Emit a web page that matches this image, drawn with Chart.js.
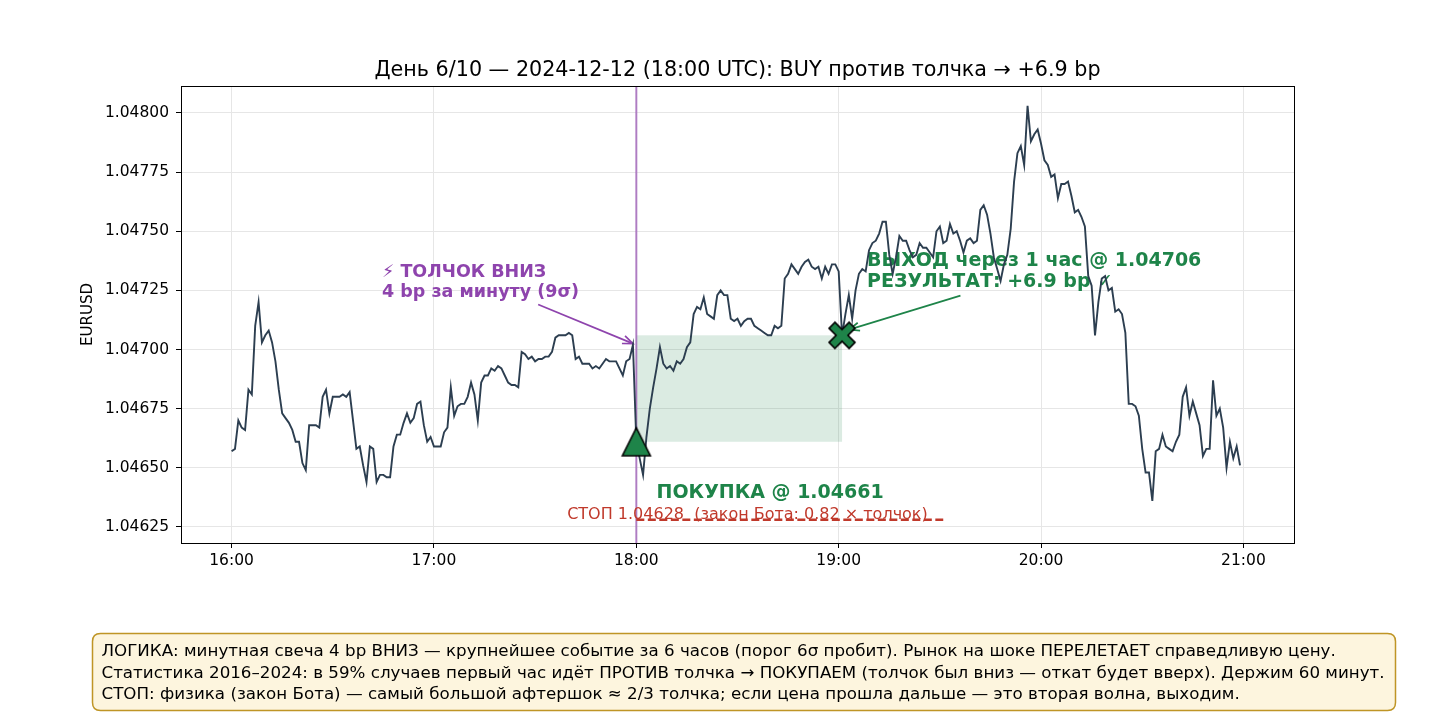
<!DOCTYPE html>
<html lang="ru">
<head>
<meta charset="UTF-8">
<title>EURUSD — день 6/10</title>
<script src="https://cdn.jsdelivr.net/npm/chart.js@4"></script>
<style>
  body { margin: 0; background: #fff; }
  #wrap { width: 1437px; height: 713px; }
</style>
</head>
<body>
<div id="wrap"><canvas id="shockChart" width="1437" height="713"></canvas></div>
<script>
// minute closes from 16:00 UTC (index = minutes after 16:00)
var closePrices = [
  1.04657, 1.04658, 1.04670, 1.04667, 1.04666, 1.04683, 1.04681, 1.04710, 1.04720, 1.04703,
  1.04706, 1.04708, 1.04703, 1.04695, 1.04683, 1.04673, 1.04671, 1.04669, 1.04666, 1.04661,
  1.04661, 1.04652, 1.04649, 1.04668, 1.04668, 1.04668, 1.04667, 1.04680, 1.04683, 1.04673,
  1.04680, 1.04680, 1.04680, 1.04681, 1.04680, 1.04682, 1.04670, 1.04658, 1.04659, 1.04651,
  1.04644, 1.04659, 1.04658, 1.04644, 1.04647, 1.04647, 1.04646, 1.04646, 1.04659, 1.04664,
  1.04664, 1.04669, 1.04673, 1.04669, 1.04671, 1.04677, 1.04678, 1.04668, 1.04661, 1.04663,
  1.04659, 1.04659, 1.04659, 1.04665, 1.04667, 1.04684, 1.04672, 1.04676, 1.04677, 1.04677,
  1.04680, 1.04686, 1.04681, 1.04670, 1.04686, 1.04689, 1.04689, 1.04692, 1.04691, 1.04693,
  1.04692, 1.04689, 1.04686, 1.04685, 1.04685, 1.04684, 1.04699, 1.04698, 1.04696, 1.04697,
  1.04695, 1.04696, 1.04696, 1.04697, 1.04697, 1.04699, 1.04705, 1.04706, 1.04706, 1.04706,
  1.04707, 1.04706, 1.04696, 1.04697, 1.04694, 1.04694, 1.04694, 1.04692, 1.04693, 1.04692,
  1.04694, 1.04696, 1.04695, 1.04695, 1.04695, 1.04692, 1.04689, 1.04695, 1.04696, 1.04702,
  1.04661, 1.04654, 1.04647, 1.04663, 1.04675, 1.04684, 1.04692, 1.04701, 1.04694, 1.04692,
  1.04693, 1.04691, 1.04695, 1.04694, 1.04696, 1.04701, 1.04703, 1.04715, 1.04718, 1.04717,
  1.04722, 1.04715, 1.04714, 1.04713, 1.04723, 1.04725, 1.04723, 1.04723, 1.04713, 1.04712,
  1.04713, 1.04710, 1.04712, 1.04713, 1.04713, 1.04710, 1.04709, 1.04708, 1.04707, 1.04706,
  1.04706, 1.04710, 1.04709, 1.04710, 1.04730, 1.04732, 1.04736, 1.04734, 1.04732, 1.04735,
  1.04737, 1.04738, 1.04735, 1.04734, 1.04735, 1.04730, 1.04735, 1.04732, 1.04736, 1.04736,
  1.04733, 1.04706, 1.04715, 1.04723, 1.04713, 1.04725, 1.04732, 1.04734, 1.04733, 1.04742,
  1.04745, 1.04746, 1.04749, 1.04754, 1.04754, 1.04740, 1.04732, 1.04739, 1.04748, 1.04746,
  1.04746, 1.04742, 1.04739, 1.04740, 1.04745, 1.04743, 1.04743, 1.04741, 1.04739, 1.04750,
  1.04752, 1.04745, 1.04746, 1.04753, 1.04749, 1.04750, 1.04746, 1.04741, 1.04746, 1.04747,
  1.04745, 1.04746, 1.04759, 1.04761, 1.04757, 1.04749, 1.04739, 1.04734, 1.04729, 1.04736,
  1.04740, 1.04751, 1.04771, 1.04783, 1.04786, 1.04778, 1.04803, 1.04788, 1.04791, 1.04793,
  1.04787, 1.04780, 1.04778, 1.04773, 1.04774, 1.04764, 1.04770, 1.04770, 1.04771, 1.04765,
  1.04758, 1.04759, 1.04756, 1.04752, 1.04731, 1.04727, 1.04706, 1.04720, 1.04730, 1.04731,
  1.04725, 1.04726, 1.04716, 1.04717, 1.04715, 1.04707, 1.04677, 1.04677, 1.04676, 1.04672,
  1.04658, 1.04648, 1.04648, 1.04636, 1.04657, 1.04658, 1.04664, 1.04659, 1.04658, 1.04657,
  1.04661, 1.04664, 1.04680, 1.04684, 1.04672, 1.04678, 1.04673, 1.04668, 1.04655, 1.04658,
  1.04658, 1.04687, 1.04672, 1.04675, 1.04667, 1.04650, 1.04661, 1.04654, 1.04659, 1.04651
];

var xTickMinutes = [0, 60, 120, 180, 240, 300];
var xTickLabels = ['16:00', '17:00', '18:00', '19:00', '20:00', '21:00'];
var yTickValues = [1.04625, 1.04650, 1.04675, 1.04700, 1.04725, 1.04750, 1.04775, 1.04800];

var shockMinute = 120;
var entryMinute = 120;
var entryPrice = 1.04661;
var exitMinute = 181;
var exitPrice = 1.04706;
var stopMinutes = [120, 211];
var stopPrice = 1.04628;

var titleText = 'День 6/10 — 2024-12-12 (18:00 UTC): BUY против толчка → +6.9 bp';
var shockLines = ['⚡ ТОЛЧОК ВНИЗ', '4 bp за минуту (9σ)'];
var exitLines = ['ВЫХОД через 1 час @ 1.04706', 'РЕЗУЛЬТАТ: +6.9 bp ✓'];
var entryLabel = 'ПОКУПКА @ 1.04661';
var stopLabel = 'СТОП 1.04628  (закон Бота: 0.82 × толчок)';
var noteLines = [
  'ЛОГИКА: минутная свеча 4 bp ВНИЗ — крупнейшее событие за 6 часов (порог 6σ пробит). Рынок на шоке ПЕРЕЛЕТАЕТ справедливую цену.',
  'Статистика 2016–2024: в 59% случаев первый час идёт ПРОТИВ толчка → ПОКУПАЕМ (толчок был вниз — откат будет вверх). Держим 60 минут.',
  'СТОП: физика (закон Бота) — самый большой афтершок ≈ 2/3 толчка; если цена прошла дальше — это вторая волна, выходим.'
];

var GREEN = '#1e8449';
var PURPLE = '#8e44ad';
var RED = '#c0392b';
var FONT = '"DejaVu Sans", sans-serif';

function makeTriangle() {
    var c = document.createElement('canvas');
    c.width = 34; c.height = 34;
    var g = c.getContext('2d');
    g.beginPath();
    g.moveTo(17, 3); g.lineTo(31, 31); g.lineTo(3, 31); g.closePath();
    g.fillStyle = GREEN; g.fill();
    g.lineWidth = 1.6; g.strokeStyle = '#000'; g.lineJoin = 'miter'; g.stroke();
    return c;
}

function makeCross() {
    var c = document.createElement('canvas');
    c.width = 30; c.height = 30;
    var g = c.getContext('2d');
    var L = 14.2, t = 4.2;
    var pts = [[t, L], [t, t], [L, t], [L, -t], [t, -t], [t, -L], [-t, -L], [-t, -t], [-L, -t], [-L, t], [-t, t], [-t, L]];
    g.translate(15, 15);
    g.rotate(Math.PI / 4);
    g.beginPath();
    pts.forEach(function(p, i) { if (i === 0) g.moveTo(p[0], p[1]); else g.lineTo(p[0], p[1]); });
    g.closePath();
    g.fillStyle = GREEN; g.fill();
    g.lineWidth = 1.6; g.strokeStyle = '#000'; g.stroke();
    return c;
}

function drawArrow(ctx, fx, fy, tx, ty, color) {
    var ang = Math.atan2(ty - fy, tx - fx);
    ctx.strokeStyle = color;
    ctx.lineWidth = 1.7;
    ctx.beginPath(); ctx.moveTo(fx, fy); ctx.lineTo(tx, ty); ctx.stroke();
    ctx.beginPath();
    ctx.moveTo(tx - 11 * Math.cos(ang - 0.38), ty - 11 * Math.sin(ang - 0.38));
    ctx.lineTo(tx, ty);
    ctx.lineTo(tx - 11 * Math.cos(ang + 0.38), ty - 11 * Math.sin(ang + 0.38));
    ctx.stroke();
}

function textBlock(ctx, lines, x, y, step, font, color) {
    ctx.font = font;
    ctx.fillStyle = color;
    ctx.textAlign = 'left';
    ctx.textBaseline = 'alphabetic';
    lines.forEach(function(line, i) { ctx.fillText(line, x, y + i * step); });
}

var overlayPlugin = {
    id: 'overlay',
    beforeDatasetsDraw: function(chart) {
        var ctx = chart.ctx, xs = chart.scales.x, ys = chart.scales.y, area = chart.chartArea;
        ctx.save();
        // holding period
        var x0 = xs.getPixelForValue(entryMinute), x1 = xs.getPixelForValue(exitMinute);
        var yt = ys.getPixelForValue(exitPrice), yb = ys.getPixelForValue(entryPrice);
        ctx.fillStyle = 'rgba(30,132,73,0.16)';
        ctx.fillRect(x0, yt, x1 - x0, yb - yt);

        // shock minute
        var xv = xs.getPixelForValue(shockMinute);
        ctx.strokeStyle = 'rgba(155,89,182,0.75)';
        ctx.lineWidth = 2;
        ctx.beginPath(); ctx.moveTo(xv, area.top); ctx.lineTo(xv, area.bottom); ctx.stroke();

        // annotations
        textBlock(ctx, shockLines, xs.getPixelForValue(44.6), ys.getPixelForValue(1.047308), 20,
            'bold 17.5px ' + FONT, PURPLE);
        drawArrow(ctx, xs.getPixelForValue(90.9), ys.getPixelForValue(1.04719),
            xs.getPixelForValue(119.0), ys.getPixelForValue(1.047025), PURPLE);

        textBlock(ctx, exitLines, xs.getPixelForValue(188.4), ys.getPixelForValue(1.047355), 21.3,
            'bold 19px ' + FONT, GREEN);
        drawArrow(ctx, xs.getPixelForValue(216.1), ys.getPixelForValue(1.047228),
            xs.getPixelForValue(183.1), ys.getPixelForValue(1.047084), GREEN);

        textBlock(ctx, [entryLabel], xs.getPixelForValue(126.0), ys.getPixelForValue(1.046374), 0,
            'bold 19px ' + FONT, GREEN);
        textBlock(ctx, [stopLabel], xs.getPixelForValue(99.5), ys.getPixelForValue(1.046285), 0,
            '16px ' + FONT, RED);
        ctx.restore();
    },
    afterDatasetsDraw: function(chart) {
        var ctx = chart.ctx, a = chart.chartArea;
        ctx.save();
        ctx.strokeStyle = '#000';
        ctx.lineWidth = 1;
        ctx.strokeRect(Math.round(a.left) + 0.5, Math.round(a.top) + 0.5,
            Math.round(a.right - a.left), Math.round(a.bottom - a.top));
        ctx.restore();
    },
    afterDraw: function(chart) {
        var ctx = chart.ctx, a = chart.chartArea;
        ctx.save();
        // title
        ctx.font = '20.7px ' + FONT;
        ctx.fillStyle = '#000';
        ctx.textAlign = 'center';
        ctx.textBaseline = 'alphabetic';
        ctx.fillText(titleText, (a.left + a.right) / 2, a.top - 10);

        // y label
        ctx.save();
        ctx.translate(88, (a.top + a.bottom) / 2);
        ctx.rotate(-Math.PI / 2);
        ctx.font = '15px ' + FONT;
        ctx.textBaseline = 'middle';
        ctx.fillText('EURUSD', 0, 0);
        ctx.restore();

        // explanation box
        var bx = 92.5, by = 633.5, bw = 1303, bh = 77, r = 8;
        ctx.beginPath();
        ctx.moveTo(bx + r, by);
        ctx.lineTo(bx + bw - r, by);
        ctx.quadraticCurveTo(bx + bw, by, bx + bw, by + r);
        ctx.lineTo(bx + bw, by + bh - r);
        ctx.quadraticCurveTo(bx + bw, by + bh, bx + bw - r, by + bh);
        ctx.lineTo(bx + r, by + bh);
        ctx.quadraticCurveTo(bx, by + bh, bx, by + bh - r);
        ctx.lineTo(bx, by + r);
        ctx.quadraticCurveTo(bx, by, bx + r, by);
        ctx.closePath();
        ctx.fillStyle = '#fdf5de';
        ctx.fill();
        ctx.strokeStyle = '#bf9525';
        ctx.lineWidth = 1.5;
        ctx.stroke();
        textBlock(ctx, noteLines, 101.5, 656, 21.6, '16.7px ' + FONT, '#000');
        ctx.restore();
    }
};

var pricePoints = closePrices.map(function(p, i) { return { x: i, y: p }; });

new Chart(document.getElementById('shockChart'), {
    type: 'line',
    data: {
        datasets: [
            {
                label: 'вход',
                data: [{ x: entryMinute, y: entryPrice }],
                pointStyle: makeTriangle(),
                pointRadius: 14,
                showLine: false,
                order: 0
            },
            {
                label: 'выход',
                data: [{ x: exitMinute, y: exitPrice }],
                pointStyle: makeCross(),
                pointRadius: 14,
                showLine: false,
                order: 0
            },
            {
                label: 'стоп',
                data: stopMinutes.map(function(m) { return { x: m, y: stopPrice }; }),
                borderColor: RED,
                borderWidth: 2.5,
                borderDash: [8, 3.5],
                pointRadius: 0,
                order: 1
            },
            {
                label: 'EURUSD',
                data: pricePoints,
                borderColor: '#2c3e50',
                borderWidth: 1.9,
                pointRadius: 0,
                tension: 0,
                order: 2
            }
        ]
    },
    options: {
        responsive: false,
        animation: false,
        events: [],
        layout: { padding: { top: 86, right: 143, left: 0, bottom: 130 } },
        plugins: { legend: { display: false }, tooltip: { enabled: false } },
        scales: {
            x: {
                type: 'linear',
                min: -15,
                max: 315,
                afterFit: function(s) { s.height = 40; },
                afterBuildTicks: function(s) {
                    s.ticks = xTickMinutes.map(function(v) { return { value: v }; });
                },
                ticks: {
                    callback: function(v, i) { return xTickLabels[i]; },
                    font: { family: FONT, size: 15.5 },
                    color: '#000',
                    padding: 4,
                    maxRotation: 0
                },
                grid: { color: '#e6e6e6', tickColor: '#000', tickLength: 5 },
                border: { display: true, color: '#000', width: 1 }
            },
            y: {
                type: 'linear',
                min: 1.046182,
                max: 1.048114,
                afterFit: function(s) { s.width = 181; },
                afterBuildTicks: function(s) {
                    s.ticks = yTickValues.map(function(v) { return { value: v }; });
                },
                ticks: {
                    callback: function(v) { return v.toFixed(5); },
                    font: { family: FONT, size: 15.5 },
                    color: '#000',
                    padding: 7
                },
                grid: { color: '#e6e6e6', tickColor: '#000', tickLength: 5 },
                border: { display: true, color: '#000', width: 1 }
            }
        }
    },
    plugins: [overlayPlugin]
});
</script>
</body>
</html>
